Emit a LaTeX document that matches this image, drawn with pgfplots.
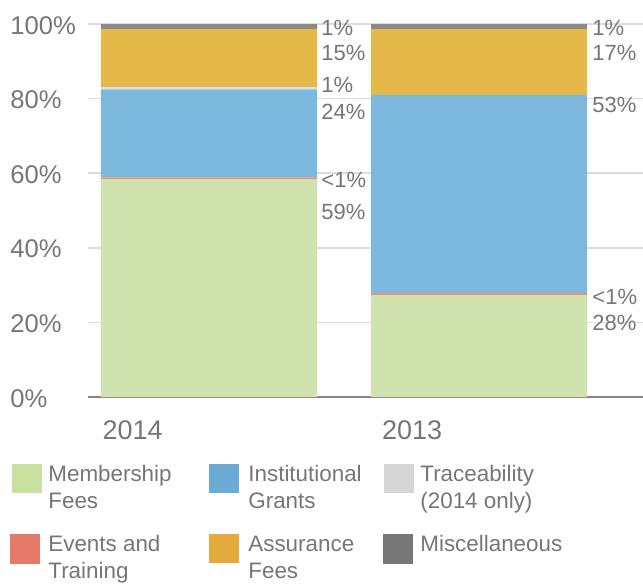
\documentclass[border=0pt]{standalone}
\usepackage{pgfplots}
\pgfplotsset{compat=1.18}
\usepackage{fontspec}
\setmainfont{Liberation Sans}

\definecolor{txt}{HTML}{767676}
\definecolor{gridc}{HTML}{DCDCDC}
\definecolor{basec}{HTML}{858585}
% bar colours
\definecolor{memb}{HTML}{D0E3AE}
\definecolor{evt}{HTML}{EE8B76}
\definecolor{inst}{HTML}{7DB9DE}
\definecolor{trace}{HTML}{DCE2E6}
\definecolor{assur}{HTML}{E5B84A}
\definecolor{misc}{HTML}{8A8A8A}
% legend colours
\definecolor{lmemb}{HTML}{C8E1A0}
\definecolor{levt}{HTML}{E57A69}
\definecolor{linst}{HTML}{6BABD6}
\definecolor{ltrace}{HTML}{D6D6D6}
\definecolor{lassur}{HTML}{E2AB3B}
\definecolor{lmisc}{HTML}{777777}

\tikzset{lab/.style={anchor=west, inner sep=0pt, text=txt,
    font=\fontsize{11}{13}\selectfont}}

\begin{document}
\begin{tikzpicture}
\useasboundingbox (-44pt,-93.5pt) rectangle (277.5pt,198.5pt);
\begin{axis}[
  at={(0,0)}, anchor=south west,
  scale only axis, width=277.5pt, height=186.5pt,
  ybar stacked, bar width=0.8,
  xmin=-0.448, xmax=1.607, ymin=0, ymax=100,
  xtick={-0.283,0.752}, xticklabels={2014,2013},
  ytick={0,20,40,60,80,100},
  yticklabels={0\%,20\%,40\%,60\%,80\%,100\%},
  ymajorgrids, major grid style={gridc, line width=0.8pt},
  axis line style={draw=none},
  major tick length=0pt,
  tick label style={text=txt, font=\fontsize{12.8}{15}\selectfont},
  yticklabel style={anchor=west, inner sep=0pt, xshift=-39pt, yshift=-0.6pt},
  xticklabel style={anchor=north, inner sep=0pt, yshift=-11.5pt,
    font=\fontsize{13.5}{15}\selectfont},
  clip=false,
]
% 2014, 2013
\addplot[fill=memb, draw=none] coordinates {(0,58.4) (1,27.4)};
\addplot[fill=evt, draw=none] coordinates {(0,0.5) (1,0.5)};
\addplot[fill=inst, draw=none] coordinates {(0,23.6) (1,53.1)};
\addplot[fill=trace, draw=none] coordinates {(0,0.6) (1,0)};
\addplot[fill=assur, draw=none] coordinates {(0,15.5) (1,17.6)};
\addplot[fill=misc, draw=none] coordinates {(0,1.4) (1,1.4)};

\draw[basec, line width=1pt] (rel axis cs:0,0) -- (rel axis cs:1,0);

% value labels
\node[lab, xshift=2pt] at (axis cs:0.4,98.9) {1\%};
\node[lab, xshift=2pt] at (axis cs:0.4,92.2) {15\%};
\node[lab, xshift=2pt] at (axis cs:0.4,83.6) {1\%};
\node[lab, xshift=2pt] at (axis cs:0.4,76.4) {24\%};
\node[lab, xshift=2pt] at (axis cs:0.4,58.2) {<1\%};
\node[lab, xshift=2pt] at (axis cs:0.4,49.6) {59\%};
\node[lab, xshift=2.5pt] at (axis cs:1.4,98.9) {1\%};
\node[lab, xshift=2.5pt] at (axis cs:1.4,92.2) {17\%};
\node[lab, xshift=2.5pt] at (axis cs:1.4,78.3) {53\%};
\node[lab, xshift=2.5pt] at (axis cs:1.4,26.7) {<1\%};
\node[lab, xshift=2.5pt] at (axis cs:1.4,19.8) {28\%};
\end{axis}

% legend, in pixel units of the reference
\begin{scope}[shift={(-44pt,198.5pt)}, x=0.5pt, y=-0.5pt,
  every node/.style={anchor=base west, inner sep=0pt, text=txt,
    font=\fontsize{11.2}{13}\selectfont}]
\fill[lmemb]  (12,464) rectangle (42,493);
\fill[linst]  (209,464) rectangle (239,493);
\fill[ltrace] (384,464) rectangle (414,493);
\fill[levt]   (10,534) rectangle (40,564);
\fill[lassur] (209,534) rectangle (239,563);
\fill[lmisc]  (383,534) rectangle (413,564);
\node at (48,481) {Membership};
\node at (48,508) {Fees};
\node at (248,481) {Institutional};
\node at (248,508) {Grants};
\node at (420,481) {Traceability};
\node at (420,508) {(2014 only)};
\node at (48,551) {Events and};
\node at (48,578) {Training};
\node at (248,551) {Assurance};
\node at (248,578) {Fees};
\node at (420,551) {Miscellaneous};
\end{scope}
\end{tikzpicture}
\end{document}
